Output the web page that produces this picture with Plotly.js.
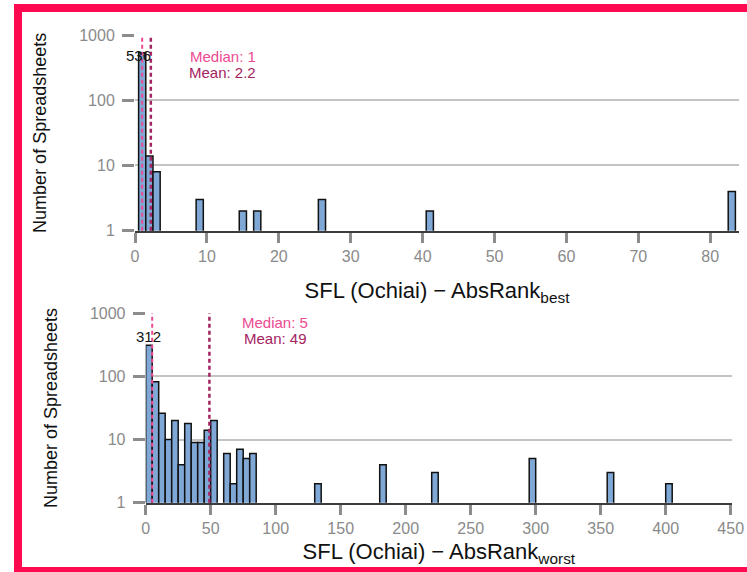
<!DOCTYPE html>
<html>
<head>
<meta charset="utf-8">
<script src="https://cdn.plot.ly/plotly-3.0.1.min.js"></script>
<style>html,body{margin:0;padding:0;background:#fff;}#chart{width:747px;height:572px;}</style>
</head>
<body>
<div id="chart"></div>
<script>
// ---- data ----
var bestRank = [1, 2, 3, 9, 15, 17, 26, 41, 83];
var bestCount = [536, 14, 8, 3, 2, 2, 3, 2, 4];
var worstBinCenter = [2.5, 7.5, 12.5, 17.5, 22.5, 27.5, 32.5, 37.5, 42.5, 47.5, 52.5, 62.5, 67.5, 72.5, 77.5, 82.5, 132.5, 182.5, 222.5, 297.5, 357.5, 402.5];
var worstCount = [312, 82, 26, 10, 20, 4, 18, 9, 9, 14, 20, 6, 2, 7, 5, 6, 2, 4, 3, 5, 3, 2];
var bestTicks = [0, 10, 20, 30, 40, 50, 60, 70, 80];
var worstTicks = [0, 50, 100, 150, 200, 250, 300, 350, 400, 450];
var countTicks = [1, 10, 100, 1000];
var bestMedian = 1, bestMean = 2.2;
var worstMedian = 5, worstMean = 49;

var W = 747, H = 572;
function px(x){ return x / W; }
function py(y){ return 1 - y / H; }

var FONT = "Liberation Sans, Arial, Helvetica, sans-serif";
var barFill = "#80a8d7";
var medianColor = "#ec4a92";
var meanColor = "#a3245f";
var tickGrey = "#8c8c8c";

var traces = [
  {type: "bar", x: bestRank, y: bestCount, width: 1, xaxis: "x", yaxis: "y",
   marker: {color: barFill, line: {color: "#111", width: 1.5}}, hoverinfo: "x+y"},
  {type: "bar", x: worstBinCenter, y: worstCount, width: 5, xaxis: "x2", yaxis: "y2",
   marker: {color: barFill, line: {color: "#111", width: 1.5}}, hoverinfo: "x+y"}
];

function xAxis(domain, range, ticks, title, anchor, standoff) {
  return {
    domain: domain, range: range, tickvals: ticks, ticktext: ticks.map(String),
    anchor: anchor, ticks: "outside", ticklen: 10, tickwidth: 3, tickcolor: tickGrey,
    showline: true, linecolor: "#3c3c3c", linewidth: 2, showgrid: false, zeroline: false,
    tickfont: {family: FONT, size: 16, color: "#8a8a8a"}, automargin: false, fixedrange: true,
    title: {text: title, font: {family: FONT, size: 22, color: "#111"}, standoff: standoff}
  };
}
function yAxis(domain, anchor) {
  return {
    domain: domain, type: "log", range: [0, 3], tickvals: countTicks, ticktext: countTicks.map(String),
    anchor: anchor, ticks: "outside", ticklen: 12, tickwidth: 3, tickcolor: tickGrey,
    showline: false, showgrid: true, gridcolor: "#c4c4c4", gridwidth: 2, zeroline: false,
    ticklabelstandoff: 4,
    tickfont: {family: FONT, size: 16, color: "#8a8a8a"}, automargin: false, fixedrange: true,
    title: {text: "Number of Spreadsheets", font: {family: FONT, size: 18, color: "#111"}, standoff: 27}
  };
}

var shapes = [
  // red frame
  {type: "rect", xref: "paper", yref: "paper", x0: px(14), x1: px(760), y0: py(4), y1: py(12), fillcolor: "#ff0a50", line: {width: 0}, layer: "above"},
  {type: "rect", xref: "paper", yref: "paper", x0: px(14), x1: px(22), y0: py(4), y1: py(572), fillcolor: "#ff0a50", line: {width: 0}, layer: "above"},
  {type: "rect", xref: "paper", yref: "paper", x0: px(14), x1: px(760), y0: py(567), y1: py(576), fillcolor: "#ff0a50", line: {width: 0}, layer: "above"},
  // median / mean lines
  {type: "line", xref: "x", yref: "y domain", x0: bestMedian, x1: bestMedian, y0: 0, y1: 1, line: {color: medianColor, width: 2, dash: "4px,3px"}},
  {type: "line", xref: "x", yref: "y domain", x0: bestMean, x1: bestMean, y0: 0, y1: 1, line: {color: meanColor, width: 2.5, dash: "4px,3px"}},
  {type: "line", xref: "x2", yref: "y2 domain", x0: worstMedian, x1: worstMedian, y0: 0, y1: 1, line: {color: medianColor, width: 2, dash: "4px,3px"}},
  {type: "line", xref: "x2", yref: "y2 domain", x0: worstMean, x1: worstMean, y0: 0, y1: 1, line: {color: meanColor, width: 2.5, dash: "4px,3px"}}
];

var annotations = [
  {xref: "x", yref: "paper", x: bestRank[0], y: py(45), xshift: -4, text: String(bestCount[0]), showarrow: false, font: {family: FONT, size: 15, color: "#111"}},
  {xref: "x", yref: "paper", x: 12.2, y: py(46), text: "Median: " + bestMedian, showarrow: false, font: {family: FONT, size: 15, color: medianColor}},
  {xref: "x", yref: "paper", x: 12.2, y: py(61.7), text: "Mean: " + bestMean, showarrow: false, font: {family: FONT, size: 15, color: meanColor}},
  {xref: "x2", yref: "paper", x: worstBinCenter[0], y: py(336.7), text: String(worstCount[0]), showarrow: false, font: {family: FONT, size: 15, color: "#111"}},
  {xref: "x2", yref: "paper", x: 99.5, y: py(322.7), text: "Median: " + worstMedian, showarrow: false, font: {family: FONT, size: 15, color: medianColor}},
  {xref: "x2", yref: "paper", x: 99.5, y: py(338), text: "Mean: " + worstMean, showarrow: false, font: {family: FONT, size: 15, color: meanColor}}
];

var layout = {
  width: W, height: H, margin: {l: 0, r: 0, t: 0, b: 0},
  paper_bgcolor: "#fff", plot_bgcolor: "#fff", showlegend: false, bargap: 0,
  font: {family: FONT},
  xaxis: xAxis([px(135), px(739)], [0, 84], bestTicks, "SFL (Ochiai) − AbsRank<sub>best</sub>", "y", 19),
  yaxis: yAxis([py(230.7), py(35)], "x"),
  xaxis2: xAxis([px(145.7), px(732)], [0, 451], worstTicks, "SFL (Ochiai) − AbsRank<sub>worst</sub>", "y2", 8),
  yaxis2: yAxis([py(502.7), py(313.3)], "x2"),
  shapes: shapes, annotations: annotations
};

Plotly.newPlot("chart", traces, layout, {displayModeBar: false, staticPlot: true});
</script>
</body>
</html>
